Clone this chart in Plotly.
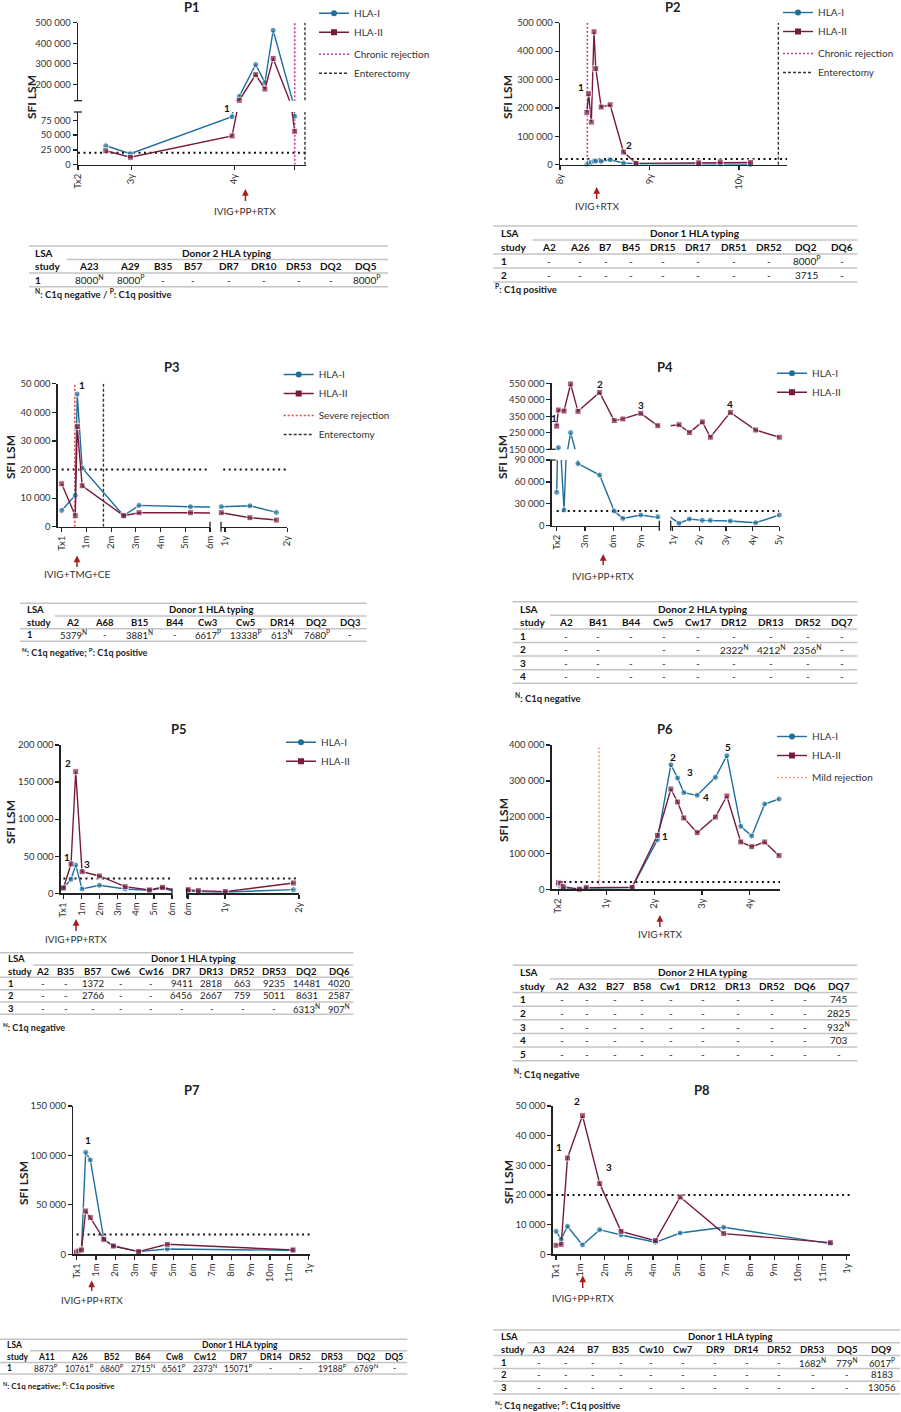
import plotly.graph_objects as go

W, H = 901, 1412
FONT = "Lato"
HLA1_COLOR = "#1f6f9d"
HLA2_COLOR = "#761b40"
TREAT_COLOR = "#a3201f"
THRESHOLD = 20000

# ---------------- data ----------------
# P1 (x in years)
p1_x = [2.75, 2.99, 3.98, 4.05, 4.21, 4.30, 4.38, 4.59]
p1_hla1 = [32000, 18600, 81000, 141000, 296000, 208000, 463000, 81700]
p1_hla2 = [23600, 12500, 48600, 122000, 247000, 177000, 326000, 56400]
p1_xtick_vals = [2.48, 3, 4, 4.59]
p1_xtick_text = ["Tx2", "3y", "4y", " "]
p1_events = [("Chronic rejection", 4.59), ("Enterectomy", 4.69)]
p1_treat = (4.11, "IVIG+PP+RTX")
p1_lab_text = ["1"]
p1_lab_x = [3.93]
p1_lab_y = [81000]

# P2 (years)
p2_x = [8.30, 8.32, 8.35, 8.38, 8.40, 8.46, 8.56, 8.71, 8.85, 9.55, 9.79, 10.13]
p2_hla1 = [2000, 6000, 9000, 12000, 13000, 12000, 17500, 6000, 3500, 3000, 2500, 1500]
p2_hla2 = [184000, 250000, 150000, 468000, 338000, 203000, 211000, 44600, 4700, 7000, 9400, 8200]
p2_xtick_vals = [8, 9, 10]
p2_xtick_text = ["8y", "9y", "10y"]
p2_events = [("Chronic rejection", 8.306), ("Enterectomy", 10.44)]
p2_treat = (8.41, "IVIG+RTX")
p2_lab_text = ["1", "2"]
p2_lab_x = [8.23, 8.77]
p2_lab_y = [272000, 68000]

# P3 (months)
p3_x = [0, 0.55, 0.63, 0.83, 2.51, 3.13, 5.21, 11.29, 16.8, 21.9]
p3_hla1 = [5700, 11000, 46400, 20500, 3850, 7460, 7000, 7000, 7300, 5000]
p3_hla2 = [15000, 3850, 35000, 14300, 3850, 4900, 4900, 4900, 3150, 2330]
p3_xtick_vals = [0, 1, 2, 3, 4, 5, 6, 12, 24]
p3_xtick_text = ["Tx1", "1m", "2m", "3m", "4m", "5m", "6m", "1y", "2y"]
p3_events = [("Severe rejection", 0.53), ("Enterectomy", 1.69)]
p3_treat = (0.62, "IVIG+TMG+CE")
p3_lab_text = ["1"]
p3_lab_x = [0.83]
p3_lab_y = [49500]

# P4 (months)
p4_x = [0, 0.18, 0.78, 1.48, 2.26, 4.56, 6.11, 7.03, 8.94, 10.74, 14.85, 19.5, 25.35, 28.95, 37.95, 49.35, 60]
p4_hla1 = [45700, 160000, 21500, 251000, 85000, 69400, 20100, 10000, 14600, 12300, 3200, 9100, 7300, 7300, 6400, 4100, 14600]
p4_hla2 = [291000, 388000, 382000, 546000, 380000, 495000, 324000, 334000, 368000, 293000, 299000, 251000, 316000, 223000, 374000, 267000, 223000]
p4_xtick_vals = [0, 3, 6, 9, 12, 24, 36, 48, 60]
p4_xtick_text = ["Tx2", "3m", "6m", "9m", "1y", "2y", "3y", "4y", "5y"]
p4_events = []
p4_treat = (4.94, "IVIG+PP+RTX")
p4_lab_text = ["1", "2", "3", "4"]
p4_lab_x = [-0.25, 4.56, 8.99, 37.95]
p4_lab_y = [338000, 546000, 418000, 424000]

# P5 (months)
p5_x = [0, 0.42, 0.68, 1.03, 1.99, 3.41, 4.75, 5.47, 6.05, 7.68, 12.05, 23.1]
p5_hla1 = [7200, 18900, 38200, 5800, 10800, 5800, 4000, 7200, 3150, 2250, 1800, 4900]
p5_hla2 = [7200, 39500, 164000, 29200, 23400, 9000, 4500, 8100, 4900, 3600, 2250, 13900]
p5_xtick_vals = [0, 1, 2, 3, 4, 5, 6, 12, 24]
p5_xtick_text = ["Tx1", "1m", "2m", "3m", "4m", "5m", "6m", "1y", "2y"]
p5_events = []
p5_treat = (0.70, "IVIG+PP+RTX")
p5_lab_text = ["1", "2", "3"]
p5_lab_x = [0.18, 0.26, 1.33]
p5_lab_y = [48500, 176000, 40000]

# P6 (years)
p6_x = [0, 0.05, 0.10, 0.44, 0.58, 1.54, 2.07, 2.35, 2.49, 2.62, 2.90, 3.28, 3.52, 3.81, 4.04, 4.31, 4.61]
p6_hla1 = [12000, 7400, 1900, 500, 3700, 4600, 137600, 345500, 308500, 268000, 260500, 310400, 370400, 174600, 147800, 236500, 250300]
p6_hla2 = [18500, 16600, 7400, 500, 4600, 5500, 149700, 278000, 242000, 197700, 157000, 200500, 258700, 131200, 118200, 131200, 93300]
p6_xtick_vals = [0, 1, 2, 3, 4]
p6_xtick_text = ["Tx2", "1y", "2y", "3y", "4y"]
p6_events = [("Mild rejection", 0.85)]
p6_treat = (2.12, "IVIG+RTX")
p6_lab_text = ["1", "2", "3", "4", "5"]
p6_lab_x = [2.23, 2.39, 2.75, 3.08, 3.54]
p6_lab_y = [148700, 365800, 325000, 256800, 395000]

# P7 (months)
p7_x = [0, 0.12, 0.25, 0.47, 0.71, 1.41, 1.90, 3.21, 4.69, 11.19]
p7_hla1 = [2400, 3400, 4400, 103200, 95400, 15200, 8400, 2700, 5400, 4000]
p7_hla2 = [2400, 3400, 4400, 43800, 37100, 15200, 8400, 2700, 10100, 4400]
p7_xtick_vals = list(range(13))
p7_xtick_text = ["Tx1"] + [f"{m}m" for m in range(1, 12)] + ["1y"]
p7_events = []
p7_treat = (0.78, "IVIG+PP+RTX")
p7_lab_text = ["1"]
p7_lab_x = [0.57]
p7_lab_y = [115600]

# P8 (months)
p8_x = [0, 0.21, 0.47, 1.09, 1.80, 2.68, 4.10, 5.12, 6.92, 11.32]
p8_hla1 = [7750, 5060, 9440, 3150, 8310, 6520, 4050, 7190, 9100, 3600]
p8_hla2 = [3030, 3370, 32470, 46740, 23820, 7750, 4610, 19330, 6970, 3930]
p8_xtick_vals = list(range(13))
p8_xtick_text = ["Tx1"] + [f"{m}m" for m in range(1, 12)] + ["1y"]
p8_events = []
p8_treat = (1.10, "IVIG+PP+RTX")
p8_lab_text = ["1", "2", "3"]
p8_lab_x = [0.12, 0.87, 2.17]
p8_lab_y = [36300, 46740, 29300]

# tables
N, P = "<sup>N</sup>", "<sup>P</sup>"
p1_tab_donor = "Donor 2 HLA typing"
p1_tab_cols = ["A23", "A29", "B35", "B57", "DR7", "DR10", "DR53", "DQ2", "DQ5"]
p1_tab_rows = [["1", "8000" + N, "8000" + P, "-", "-", "-", "-", "-", "-", "8000" + P]]
p1_tab_note = N + ": C1q negative / " + P + ": C1q positive"

p2_tab_donor = "Donor 1 HLA typing"
p2_tab_cols = ["A2", "A26", "B7", "B45", "DR15", "DR17", "DR51", "DR52", "DQ2", "DQ6"]
p2_tab_rows = [["1", "-", "-", "-", "-", "-", "-", "-", "-", "8000" + P, "-"],
               ["2", "-", "-", "-", "-", "-", "-", "-", "-", "3715", "-"]]
p2_tab_note = P + ": C1q positive"

p3_tab_donor = "Donor 1 HLA typing"
p3_tab_cols = ["A2", "A68", "B15", "B44", "Cw3", "Cw5", "DR14", "DQ2", "DQ3"]
p3_tab_rows = [["1", "5379" + N, "-", "3881" + N, "-", "6617" + P, "13338" + P, "613" + N, "7680" + P, "-"]]
p3_tab_note = N + ": C1q negative; " + P + ": C1q positive"

p4_tab_donor = "Donor 2 HLA typing"
p4_tab_cols = ["A2", "B41", "B44", "Cw5", "Cw17", "DR12", "DR13", "DR52", "DQ7"]
p4_tab_rows = [["1"] + ["-"] * 9,
               ["2", "-", "-", "", "-", "-", "2322" + N, "4212" + N, "2356" + N, "-"],
               ["3"] + ["-"] * 9,
               ["4"] + ["-"] * 9]
p4_tab_note = N + ": C1q negative"

p5_tab_donor = "Donor 1 HLA typing"
p5_tab_cols = ["A2", "B35", "B57", "Cw6", "Cw16", "DR7", "DR13", "DR52", "DR53", "DQ2", "DQ6"]
p5_tab_rows = [["1", "-", "-", "1372", "-", "-", "9411", "2818", "663", "9235", "14481", "4020"],
               ["2", "-", "-", "2766", "-", "-", "6456", "2667", "759", "5011", "8631", "2587"],
               ["3", "-", "-", "-", "-", "-", "-", "-", "-", "-", "6313" + N, "907" + N]]
p5_tab_note = N + ": C1q negative"

p6_tab_donor = "Donor 2 HLA typing"
p6_tab_cols = ["A2", "A32", "B27", "B58", "Cw1", "DR12", "DR13", "DR52", "DQ6", "DQ7"]
p6_tab_rows = [["1"] + ["-"] * 9 + ["745"],
               ["2"] + ["-"] * 9 + ["2825"],
               ["3"] + ["-"] * 9 + ["932" + N],
               ["4"] + ["-"] * 9 + ["703"],
               ["5"] + ["-"] * 10]
p6_tab_note = N + ": C1q negative"

p7_tab_donor = "Donor 1 HLA typing"
p7_tab_cols = ["A11", "A26", "B52", "B64", "Cw8", "Cw12", "DR7", "DR14", "DR52", "DR53", "DQ2", "DQ5"]
p7_tab_rows = [["1", "8873" + P, "10761" + P, "6860" + P, "2715" + N, "6561" + P, "2373" + N,
                "15071" + P, "-", "-", "19188" + P, "6769" + N, "-"]]
p7_tab_note = N + ": C1q negative; " + P + ": C1q positive"

p8_tab_donor = "Donor 1 HLA typing"
p8_tab_cols = ["A3", "A24", "B7", "B35", "Cw10", "Cw7", "DR9", "DR14", "DR52", "DR53", "DQ5", "DQ9"]
p8_tab_rows = [["1"] + ["-"] * 9 + ["1682" + N, "779" + N, "6017" + P],
               ["2"] + ["-"] * 11 + ["8183"],
               ["3"] + ["-"] * 11 + ["13056"]]
p8_tab_note = N + ": C1q negative; " + P + ": C1q positive"

EVENT_STYLE = {
    "Chronic rejection": dict(color="#c8379c", dash="2px,2px", width=1.6),
    "Severe rejection": dict(color="#e8463a", dash="2px,2px", width=1.6),
    "Mild rejection": dict(color="#f2a088", dash="2px,2px", width=1.6),
    "Enterectomy": dict(color="#333333", dash="3px,2px", width=1.4),
}


def fx(p):
    return p / W


def fy(p):
    return 1 - p / H


def split_ticks(vals, text, rng):
    tv = [v for v in vals if rng[0] - 1e-9 <= v <= rng[1] + 1e-9]
    tt = [t for v, t in zip(vals, text) if rng[0] - 1e-9 <= v <= rng[1] + 1e-9]
    return tv, tt


# ---------------- layout of the panels (pixel positions) ----------------
panels = [
    dict(title="P1", x=p1_x, h1=p1_hla1, h2=p1_hla2, xt=(p1_xtick_vals, p1_xtick_text),
         events=p1_events, treat=p1_treat, lab=(p1_lab_text, p1_lab_x, p1_lab_y), lab_shift={0: 9},
         xsegs=[dict(dom=(78, 306), rng=(2.48, 4.70))],
         ysegs=[dict(dom=(112, 164.7), rng=(0, 89000), tv=[0, 25000, 50000, 75000]),
                dict(dom=(22.7, 100.7), rng=(120000, 500000), tv=[200000, 300000, 400000, 500000])],
         title_xy=(192, 7), ytitle_xy=(31, 97), legend_xy=(322, 12.7),
         arrow=(189, 203, 211),
         table=dict(d=p1_tab_donor, c=p1_tab_cols, r=p1_tab_rows, n=p1_tab_note,
                    left=29, right=388, sub=66.7, top=246, rh=13.55, lsa=33, donor=227,
                    cols=[89.3, 130, 162.7, 193.3, 228.7, 264, 298.7, 330.7, 366],
                    foot=(33, 293.3), fs=10)),
    dict(title="P2", x=p2_x, h1=p2_hla1, h2=p2_hla2, xt=(p2_xtick_vals, p2_xtick_text),
         events=p2_events, treat=p2_treat, lab=(p2_lab_text, p2_lab_x, p2_lab_y),
         xsegs=[dict(dom=(560, 787.3), rng=(8.0, 10.54))],
         ysegs=[dict(dom=(22.7, 164.7), rng=(0, 500000), tv=[0, 100000, 200000, 300000, 400000, 500000])],
         title_xy=(673, 7), ytitle_xy=(507, 97), legend_xy=(786, 12),
         arrow=(187, 201, 205.5),
         table=dict(d=p2_tab_donor, c=p2_tab_cols, r=p2_tab_rows, n=p2_tab_note,
                    left=493.3, right=857.3, sub=532.7, top=226, rh=14, lsa=499.3, donor=695,
                    cols=[549, 580, 605.7, 631, 663.3, 698.3, 734, 769.3, 806, 841.7],
                    foot=(493, 288.7), fs=10)),
    dict(title="P3", x=p3_x, h1=p3_hla1, h2=p3_hla2, xt=(p3_xtick_vals, p3_xtick_text),
         events=p3_events, treat=p3_treat, lab=(p3_lab_text, p3_lab_x, p3_lab_y),
         xsegs=[dict(dom=(57.7, 210), rng=(-0.16, 6.0)), dict(dom=(221, 287.3), rng=(11.23, 24))],
         ysegs=[dict(dom=(383.7, 526.7), rng=(0, 50000), tv=[0, 10000, 20000, 30000, 40000, 50000])],
         title_xy=(172, 367), ytitle_xy=(11, 457), legend_xy=(286.7, 374),
         arrow=(555.5, 569, 573.5),
         table=dict(d=p3_tab_donor, c=p3_tab_cols, r=p3_tab_rows, n=p3_tab_note,
                    left=20, right=366.7, sub=55, top=603.3, rh=12.67, lsa=25, donor=210.7,
                    cols=[73, 104.7, 139.3, 175, 208.3, 245.7, 282, 316.7, 350.3],
                    foot=(20, 652), fs=9.5)),
    dict(title="P4", x=p4_x, h1=p4_hla1, h2=p4_hla2, xt=(p4_xtick_vals, p4_xtick_text),
         events=p4_events, treat=p4_treat, lab=(p4_lab_text, p4_lab_x, p4_lab_y),
         xsegs=[dict(dom=(551.7, 659.3), rng=(-0.53, 10.9)), dict(dom=(670.7, 779.3), rng=(11.1, 60))],
         ysegs=[dict(dom=(460, 525.7), rng=(0, 90000), tv=[0, 30000, 60000, 90000]),
                dict(dom=(383.3, 449.3), rng=(150000, 550000), tv=[150000, 250000, 350000, 450000, 550000])],
         title_xy=(665, 367), ytitle_xy=(503, 457), legend_xy=(780, 372.7),
         arrow=(554, 567, 576),
         table=dict(d=p4_tab_donor, c=p4_tab_cols, r=p4_tab_rows, n=p4_tab_note,
                    left=512.7, right=857.3, sub=550, top=601.7, rh=13.6, lsa=518.3, donor=703.3,
                    cols=[566, 598.3, 631, 663.7, 698.3, 734.3, 771, 807.7, 841.7],
                    foot=(513, 697), fs=10)),
    dict(title="P5", x=p5_x, h1=p5_hla1, h2=p5_hla2, xt=(p5_xtick_vals, p5_xtick_text),
         events=p5_events, treat=p5_treat, lab=(p5_lab_text, p5_lab_x, p5_lab_y),
         xsegs=[dict(dom=(60.7, 172), rng=(-0.15, 6.0)), dict(dom=(186.7, 299), rng=(5.8, 24))],
         ysegs=[dict(dom=(745, 893.3), rng=(0, 200000), tv=[0, 50000, 100000, 150000, 200000])],
         title_xy=(179, 729), ytitle_xy=(10, 822), legend_xy=(289, 741.7),
         arrow=(919, 933, 938.5),
         table=dict(d=p5_tab_donor, c=p5_tab_cols, r=p5_tab_rows, n=p5_tab_note,
                    left=0, right=353.3, sub=33.3, top=952.7, rh=12.32, lsa=6, donor=193.3,
                    cols=[42.7, 65.7, 93.3, 121.3, 151, 181.7, 211.7, 242.7, 274, 306.7, 339],
                    foot=(1, 1026.7), fs=9.5)),
    dict(title="P6", x=p6_x, h1=p6_hla1, h2=p6_hla2, xt=(p6_xtick_vals, p6_xtick_text),
         events=p6_events, treat=p6_treat, lab=(p6_lab_text, p6_lab_x, p6_lab_y),
         xsegs=[dict(dom=(551.7, 780), rng=(-0.14, 4.63))],
         ysegs=[dict(dom=(745, 889.3), rng=(0, 400000), tv=[0, 100000, 200000, 300000, 400000])],
         title_xy=(665, 729), ytitle_xy=(503, 820), legend_xy=(780, 736),
         arrow=(915, 929, 933.5),
         table=dict(d=p6_tab_donor, c=p6_tab_cols, r=p6_tab_rows, n=p6_tab_note,
                    left=512.7, right=857.3, sub=550, top=965.3, rh=13.63, lsa=518.3, donor=703.3,
                    cols=[561.7, 586.7, 614.7, 642.3, 670.7, 703.3, 738, 772, 804.7, 838.7],
                    foot=(512, 1073.3), fs=10)),
    dict(title="P7", x=p7_x, h1=p7_hla1, h2=p7_hla2, xt=(p7_xtick_vals, p7_xtick_text),
         events=p7_events, treat=p7_treat, lab=(p7_lab_text, p7_lab_x, p7_lab_y),
         xsegs=[dict(dom=(73.3, 310), rng=(-0.17, 12.07))],
         ysegs=[dict(dom=(1106, 1254.3), rng=(0, 150000), tv=[0, 50000, 100000, 150000])],
         title_xy=(192, 1090), ytitle_xy=(23, 1183), legend_xy=None,
         arrow=(1280.5, 1293, 1299.5),
         table=dict(d=p7_tab_donor, c=p7_tab_cols, r=p7_tab_rows, n=p7_tab_note,
                    left=0, right=407.3, sub=30, top=1339.3, rh=11.57, lsa=5, donor=240,
                    cols=[46, 79.3, 112.3, 143.3, 174, 205, 238.3, 270.7, 300, 332.3, 365.7, 394.3],
                    foot=(1, 1385), fs=8.5)),
    dict(title="P8", x=p8_x, h1=p8_hla1, h2=p8_hla2, xt=(p8_xtick_vals, p8_xtick_text),
         events=p8_events, treat=p8_treat, lab=(p8_lab_text, p8_lab_x, p8_lab_y), lab_shift={1: 15},
         xsegs=[dict(dom=(552.7, 850), rng=(-0.14, 12.13))],
         ysegs=[dict(dom=(1106, 1254.3), rng=(0, 50000), tv=[0, 10000, 20000, 30000, 40000, 50000])],
         title_xy=(702, 1090), ytitle_xy=(508, 1182), legend_xy=None,
         arrow=(1275.5, 1290, 1297.5),
         table=dict(d=p8_tab_donor, c=p8_tab_cols, r=p8_tab_rows, n=p8_tab_note,
                    left=493.3, right=900, sub=527.3, top=1330, rh=12.8, lsa=499.3, donor=730,
                    cols=[539.3, 565.7, 592.7, 620.7, 651, 683.3, 715, 746.7, 779, 812.7, 846.7, 881.7],
                    foot=(493, 1405), fs=9.5)),
]

AX = dict(showgrid=False, zeroline=False, showline=True, linecolor="#222", linewidth=1.3,
          ticks="outside", ticklen=4, tickwidth=1.2, tickcolor="#222", automargin=False,
          tickfont=dict(size=9.5, color="#333", family=FONT), fixedrange=True)

fig = go.Figure()
layout = {}
annotations = []
shapes = []
counter = {"x": 0, "y": 0}


def new_axis(kind):
    counter[kind] += 1
    n = counter[kind]
    return (kind if n == 1 else f"{kind}{n}"), (f"{kind}axis" if n == 1 else f"{kind}axis{n}")


def inside(seg, v):
    return seg["rng"][0] <= v <= seg["rng"][1]


def pick(segs, v):
    for s in segs:
        if inside(s, v):
            return s
    return min(segs, key=lambda s: min(abs(v - s["rng"][0]), abs(v - s["rng"][1])))


def txt(x, y, text, size=10, bold=False, anchor="center", color="#222", angle=0):
    if not text:
        return
    annotations.append(dict(x=fx(x), y=fy(y), xref="paper", yref="paper", text=f"<b>{text}</b>" if bold else text,
                            showarrow=False, xanchor=anchor, yanchor="middle", textangle=angle,
                            font=dict(size=size, color=color, family=FONT)))


def hline(x0, x1, y, color="#c4c4c4", width=1.5):
    shapes.append(dict(type="line", xref="paper", yref="paper", x0=fx(x0), x1=fx(x1), y0=fy(y), y1=fy(y),
                       line=dict(color=color, width=width)))


for pi, P in enumerate(panels):
    xsegs, ysegs = P["xsegs"], P["ysegs"]
    for s in xsegs:
        s["ref"], s["key"] = new_axis("x")
    for s in ysegs:
        s["ref"], s["key"] = new_axis("y")
    for s in xsegs:
        tv, tt = split_ticks(P["xt"][0], P["xt"][1], s["rng"])
        layout[s["key"]] = dict(AX, domain=[fx(s["dom"][0]), fx(s["dom"][1])], range=list(s["rng"]),
                                anchor=ysegs[0]["ref"], tickmode="array", tickvals=tv, ticktext=tt, tickangle=-90)
    for s in ysegs:
        layout[s["key"]] = dict(AX, domain=[fy(s["dom"][1]), fy(s["dom"][0])], range=list(s["rng"]),
                                anchor=xsegs[0]["ref"], tickmode="array", tickvals=s["tv"], tickformat=",d")

    legend_id = "legend" if pi == 0 else f"legend{pi + 1}"
    xmax = xsegs[-1]["rng"][1]
    ytop = ysegs[-1]["rng"][1]
    series = [("HLA-I", P["h1"], HLA1_COLOR, "circle"), ("HLA-II", P["h2"], HLA2_COLOR, "square")]

    for xs in xsegs:
        for ys in ysegs:
            ax = dict(xaxis=xs["ref"], yaxis=ys["ref"], showlegend=False, hoverinfo="skip")
            # threshold
            fig.add_trace(go.Scatter(x=[P["xt"][0][0], xmax], y=[THRESHOLD, THRESHOLD], mode="lines",
                                     line=dict(color="#111", width=2, dash="2px,3.5px"), **ax))
            # events
            for name, ev in P["events"]:
                if inside(xs, ev):
                    fig.add_trace(go.Scatter(x=[ev, ev], y=[0, ytop], mode="lines",
                                             line=EVENT_STYLE[name], **ax))
            for name, vals, color, sym in series:
                sizes = [6 if inside(xs, xv) and inside(ys, yv) else 0 for xv, yv in zip(P["x"], vals)]
                fig.add_trace(go.Scatter(x=P["x"], y=vals, mode="lines+markers", cliponaxis=False,
                                         line=dict(color=color, width=1.4),
                                         marker=dict(symbol=sym, size=sizes, color=color), **ax))

    # legend entries
    if P["legend_xy"]:
        lx, ly = P["legend_xy"]
        base = dict(xaxis=xsegs[0]["ref"], yaxis=ysegs[0]["ref"], x=[None], y=[None], legend=legend_id)
        for name, vals, color, sym in series:
            fig.add_trace(go.Scatter(mode="lines+markers", name=name, legendgroup="s",
                                     line=dict(color=color, width=1.4),
                                     marker=dict(symbol=sym, size=6, color=color), **base))
        for name, ev in P["events"]:
            fig.add_trace(go.Scatter(mode="lines", name=name, legendgroup="e", line=EVENT_STYLE[name], **base))
        layout[legend_id] = dict(x=fx(lx - 8), y=fy(ly - 14), xanchor="left", yanchor="top",
                                 bgcolor="rgba(0,0,0,0)", traceorder="grouped", tracegroupgap=3,
                                 itemwidth=30, font=dict(size=10, color="#333", family=FONT))

    # broken axis caps
    if len(ysegs) > 1:
        axx = xsegs[0]["dom"][0]
        hline(axx - 4, axx + 4, ysegs[0]["dom"][0], color="#222", width=1.3)
        hline(axx - 4, axx + 4, ysegs[1]["dom"][1], color="#222", width=1.3)
    if len(xsegs) > 1:
        axy = ysegs[0]["dom"][1]
        for xp in (xsegs[0]["dom"][1], xsegs[1]["dom"][0]):
            shapes.append(dict(type="line", xref="paper", yref="paper", x0=fx(xp), x1=fx(xp),
                               y0=fy(axy - 5), y1=fy(axy + 5), line=dict(color="#222", width=1.3)))

    # titles
    txt(*P["title_xy"], P["title"], size=13, bold=True)
    txt(*P["ytitle_xy"], "SFI LSM", size=12, bold=True, angle=-90)

    # peak labels (LSA study numbers)
    shifts = P.get("lab_shift", {})
    for i, (t, lxv, lyv) in enumerate(zip(*P["lab"])):
        xs, ys = pick(xsegs, lxv), pick(ysegs, lyv)
        annotations.append(dict(x=lxv, y=lyv, xref=xs["ref"], yref=ys["ref"], text=f"<b>{t}</b>",
                                showarrow=False, yshift=shifts.get(i, 0),
                                font=dict(size=10, color="#111", family=FONT)))

    # treatment arrow
    tx, tlabel = P["treat"]
    head, tail, ty = P["arrow"]
    xs = pick(xsegs, tx)
    annotations.append(dict(x=tx, y=fy(head), xref=xs["ref"], yref="paper", text=" ", showarrow=True,
                            ax=0, ay=tail - head, arrowhead=2, arrowsize=0.9, arrowwidth=1.5,
                            arrowcolor=TREAT_COLOR, font=dict(size=1)))
    annotations.append(dict(x=tx, y=fy(ty), xref=xs["ref"], yref="paper", text=tlabel, showarrow=False,
                            yanchor="middle", font=dict(size=10, color="#333", family=FONT)))

    # table
    T = P["table"]
    top, rh, fs = T["top"], T["rh"], T["fs"]
    nrows = len(T["r"])
    hline(T["left"], T["right"], top)
    hline(T["sub"], T["right"], top + rh)
    for k in range(nrows + 1):
        hline(T["left"], T["right"], top + rh * (k + 2))
    txt(T["lsa"], top + 0.5 * rh, "LSA", size=fs, bold=True, anchor="left", color="#111")
    txt(T["donor"], top + 0.5 * rh, T["d"], size=fs, bold=True, color="#111")
    txt(T["lsa"], top + 1.5 * rh, "study", size=fs, bold=True, anchor="left", color="#111")
    for cx, c in zip(T["cols"], T["c"]):
        txt(cx, top + 1.5 * rh, c, size=fs, bold=True, color="#111")
    for k, row in enumerate(T["r"]):
        yy = top + rh * (k + 2.5)
        txt(T["lsa"], yy, row[0], size=fs, bold=True, anchor="left", color="#111")
        for cx, v in zip(T["cols"], row[1:]):
            txt(cx, yy, v, size=fs, color="#222")
    txt(T["foot"][0], T["foot"][1], T["n"], size=fs - 0.5, bold=True, anchor="left", color="#222")

layout.update(width=W, height=H, margin=dict(l=0, r=0, t=0, b=0, autoexpand=False), paper_bgcolor="white",
              plot_bgcolor="white", separators=". ", font=dict(family=FONT, color="#222"),
              annotations=annotations, shapes=shapes, showlegend=True)
fig.update_layout(**layout)
fig.write_html("out.html", config={"displayModeBar": False, "staticPlot": True},
               post_script="document.body.style.margin='0';document.body.style.overflow='hidden';")
